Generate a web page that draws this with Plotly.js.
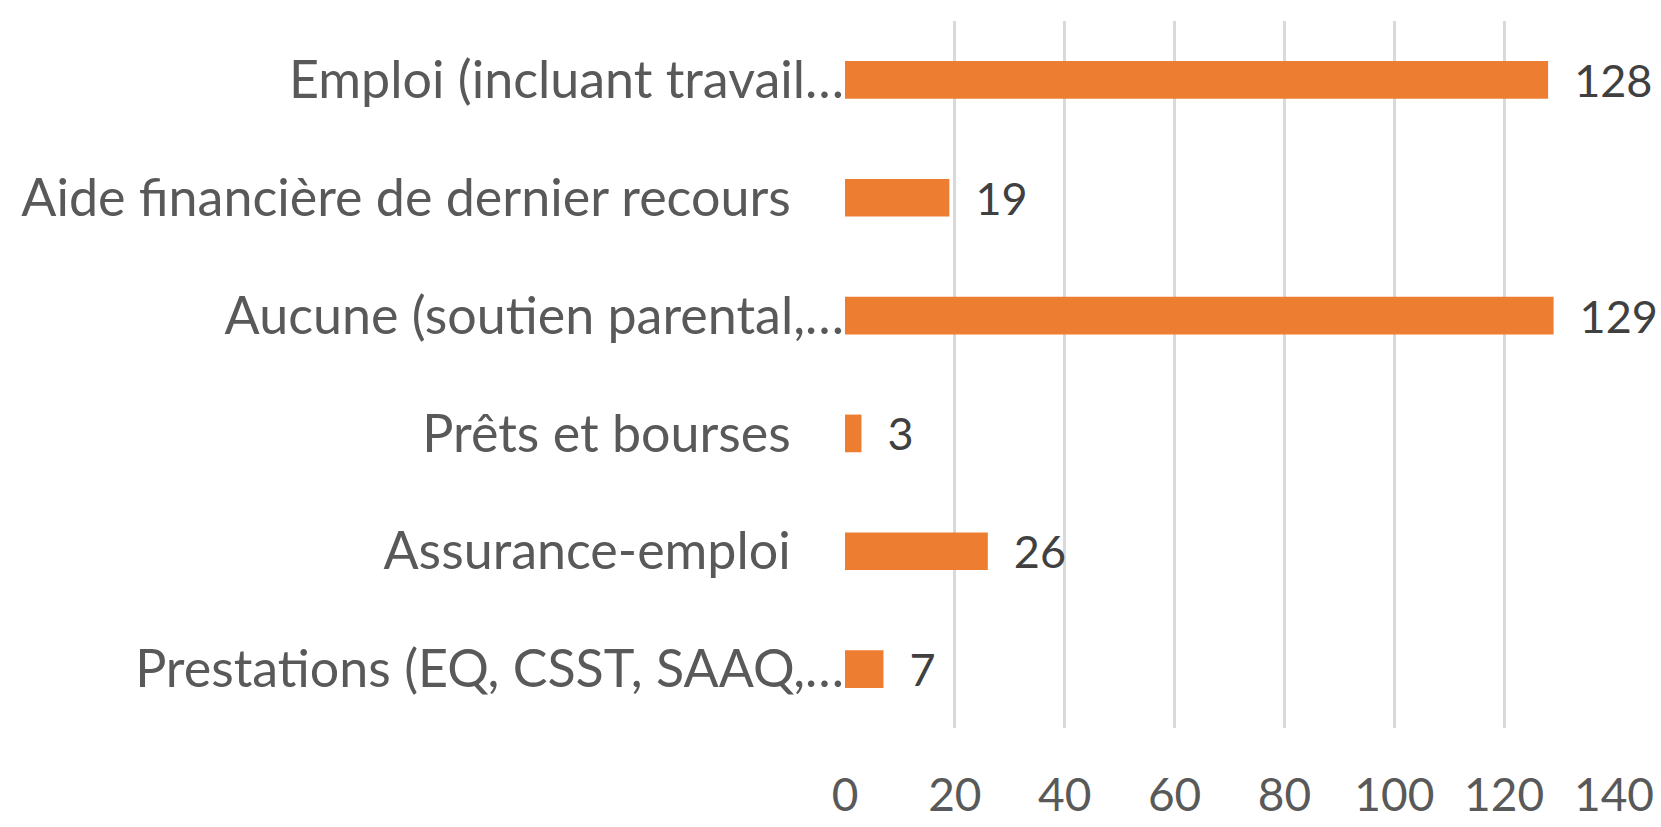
<!DOCTYPE html>
<html>
<head>
<meta charset="utf-8">
<script src="https://cdn.plot.ly/plotly-3.0.1.min.js"></script>
<style>html,body{margin:0;padding:0;background:#fff;}#chart{width:1661px;height:827px;}</style>
</head>
<body>
<div id="chart"></div>
<script>
const categories = [
  "Emploi (incluant travail…",
  "Aide financière de dernier recours",
  "Aucune (soutien parental,…",
  "Prêts et bourses",
  "Assurance-emploi",
  "Prestations (EQ, CSST, SAAQ,…"
];
const values = [128, 19, 129, 3, 26, 7];
const tickValues = [0, 20, 40, 60, 80, 100, 120, 140];

const pad = '\u00a0'.repeat(4);
const tickText = categories.map(c => c.endsWith('…') ? c : c + pad);

const trace = {
  type: 'bar',
  orientation: 'h',
  y: categories,
  x: values,
  marker: {color: '#ED7D31'},
  text: values.map(String),
  texttemplate: '\u00a0\u00a0%{text}',
  textposition: 'outside',
  constraintext: 'none',
  cliponaxis: false,
  textfont: {family: 'Lato, sans-serif', size: 45, color: '#404040'},
  hoverinfo: 'none'
};

const layout = {
  width: 1661,
  height: 827,
  margin: {l: 845, r: 47, t: 21, b: 99},
  paper_bgcolor: '#ffffff',
  plot_bgcolor: '#ffffff',
  bargap: 0.68,
  showlegend: false,
  font: {family: 'Lato, sans-serif', color: '#595959'},
  xaxis: {
    range: [0, 140],
    tickvals: tickValues,
    ticktext: tickValues.map(String),
    showgrid: true,
    gridcolor: '#D9D9D9',
    gridwidth: 3,
    zeroline: false,
    showline: false,
    ticks: '',
    ticklabelstandoff: 36,
    tickfont: {family: 'Lato, sans-serif', size: 46, color: '#595959'}
  },
  yaxis: {
    autorange: 'reversed',
    tickvals: categories,
    ticktext: tickText,
    showgrid: false,
    zeroline: false,
    showline: false,
    ticks: '',
    tickfont: {family: 'Lato, sans-serif', size: 52, color: '#595959'}
  }
};

Plotly.newPlot('chart', [trace], layout, {staticPlot: true, displayModeBar: false});
</script>
</body>
</html>
